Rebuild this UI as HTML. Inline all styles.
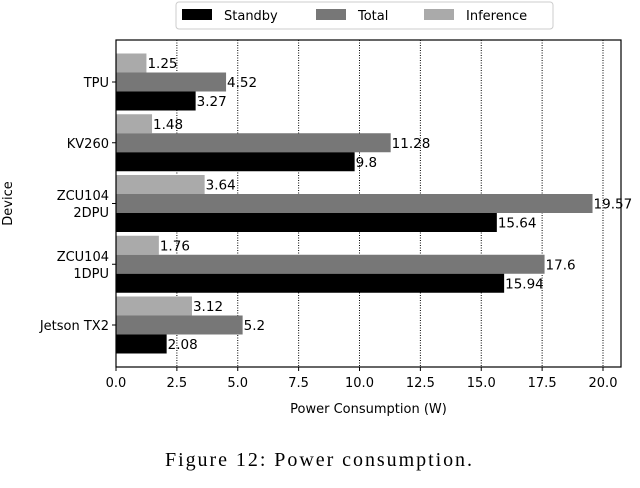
<!DOCTYPE html>
<html><head><meta charset="utf-8"><style>
body{margin:0;background:#fff;width:640px;height:483px;overflow:hidden}
svg text{font-family:"DejaVu Sans","Liberation Sans",sans-serif}
</style></head><body>
<svg id="c" width="640" height="483" xmlns="http://www.w3.org/2000/svg"></svg>
<script>
const devices=["Jetson TX2","ZCU104\n1DPU","ZCU104\n2DPU","KV260","TPU"];
const standby=[2.08,15.94,15.64,9.8,3.27];
const total=[5.2,17.6,19.57,11.28,4.52];
const inference=[3.12,1.76,3.64,1.48,1.25];
const xTicks=[0,2.5,5,7.5,10,12.5,15,17.5,20];
const NS="http://www.w3.org/2000/svg";
const svg=document.getElementById('c');
const L=116,R=621,T=40,B=367;
const x=v=>L+v*24.35;
const y=i=>325-i*60.75;
const bh=19;
function mk(t,a,p){const e=document.createElementNS(NS,t);for(const k in a)e.setAttribute(k,a[k]);(p||svg).appendChild(e);return e;}
xTicks.forEach(v=>{
 const g=mk('line',{x1:x(v),x2:x(v),y1:T,y2:B,stroke:'#000','stroke-width':1,'stroke-dasharray':'1,1.5'});
 
 
 mk('line',{x1:x(v),x2:x(v),y1:B,y2:B+4,stroke:'#000'});
 const t=mk('text',{x:x(v),y:B+20,'text-anchor':'middle','font-size':13});
 t.textContent=v.toFixed(1);
 
 
});
const series=[[inference,'#aaaaaa',-1],[total,'#777777',0],[standby,'#000000',1]];
devices.forEach((d,i)=>{
 const cy=y(i);
 series.forEach(([arr,col,o])=>{
  const top=cy+o*bh-bh/2;
  const r=mk('rect',{x:x(0),y:top,width:x(arr[i])-x(0),height:bh,fill:col});
  
  
  const t=mk('text',{x:x(arr[i])+1,y:top+bh/2+5,'font-size':13.5});
  t.textContent=String(arr[i]);
  
  
 });
 mk('line',{x1:L-4,x2:L,y1:cy,y2:cy,stroke:'#000'});
 const lines=d.split('\n');
 lines.forEach((ln,k)=>{
  const t=mk('text',{x:L-7,y:cy+5+(k-(lines.length-1)/2)*17,'text-anchor':'end','font-size':13});
  t.textContent=ln;
  
  
 });
});
mk('rect',{x:L,y:T,width:R-L,height:B-T,fill:'none',stroke:'#000','stroke-width':1.2});
const xt=mk('text',{x:(L+R)/2,y:413,'text-anchor':'middle','font-size':13});xt.textContent='Power Consumption (W)';

const yt=mk('text',{x:0,y:0,'text-anchor':'middle','font-size':13,transform:'translate(12,'+((T+B)/2)+') rotate(-90)'});yt.textContent='Device';

const lg=mk('g',{});

mk('rect',{x:176,y:2,width:377,height:27,rx:3,fill:'#fff',stroke:'#ccc'},lg);
[['Standby','#000',182],['Total','#777',316],['Inference','#aaa',424]].forEach(([n,c,lx])=>{
 mk('rect',{x:lx,y:9,width:30,height:11,fill:c},lg);
 const t=mk('text',{x:lx+42,y:20,'font-size':13},lg);t.textContent=n;
 
});
const cap=mk('text',{x:165,y:466,'font-size':20,textLength:307,lengthAdjust:'spacing',style:'font-family:"Liberation Serif",serif'});
cap.textContent='Figure 12: Power consumption.';

</script>
</body></html>
